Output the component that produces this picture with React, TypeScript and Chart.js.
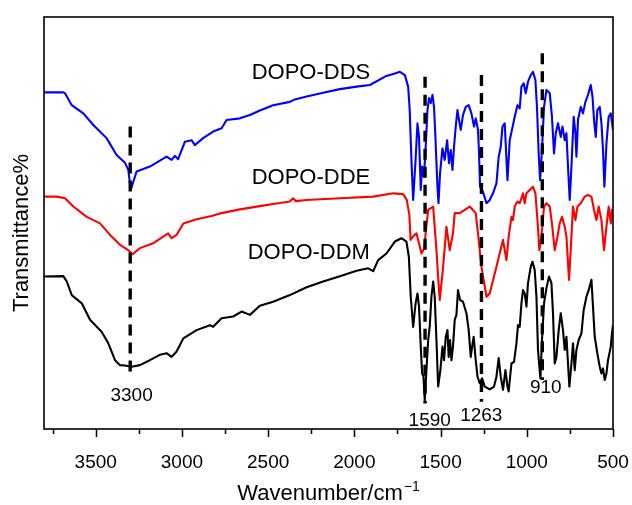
import React, { useEffect, useRef } from "react";
import { Chart, registerables } from "chart.js";

Chart.register(...registerables);

const FONT = "'Liberation Sans', Arial, Helvetica, sans-serif";

const seriesNames = ["DOPO-DDS", "DOPO-DDE", "DOPO-DDM"];
const seriesColors = ["#0000ff", "#ff0000", "#000000"];

const ddsWave = [3800,3688,3678,3639,3572,3514,3437,3379,3330,3311,3297,3282,3263,3186,3089,3060,3041,3022,2983,2944,2925,2877,2819,2770,2741,2664,2606,2548,2471,2374,2345,2277,2181,2084,1987,1910,1814,1765,1736,1707,1688,1679,1669,1659,1645,1634,1625,1615,1607,1597,1588,1576,1567,1557,1547,1538,1530,1518,1512,1503,1489,1476,1462,1451,1441,1431,1422,1412,1402,1393,1383,1370,1354,1337,1321,1306,1296,1283,1277,1271,1254,1234,1215,1196,1176,1163,1151,1141,1128,1112,1099,1086,1070,1054,1041,1031,1018,1006,993,977,964,950,941,931,923,912,900,886,867,854,842,832,819,803,793,780,770,761,751,741,728,718,712,703,687,674,660,645,629,619,610,600,591,577,567,558,550,538,525,513,500];
const ddsT = [81.7,81.7,81.5,78.6,76.6,73.8,70.6,66.5,64.6,62.9,58.0,60.0,62.5,63.7,66.1,65.3,66.3,65.5,69.7,70.1,68.9,70.6,72.2,73.0,75.0,75.4,76.2,77.3,78.6,79.4,80.0,80.7,81.6,82.5,83.1,83.5,85.7,86.3,86.7,85.9,83.1,77.4,65.3,55.6,65.3,74.2,70.9,58.0,63.7,61.2,67.0,77.4,80.3,79.1,81.1,78.2,70.9,58.8,54.8,62.1,68.1,65.3,70.1,64.5,67.7,62.9,68.5,73.4,77.4,75.0,72.6,76.2,78.2,78.6,76.6,73.4,75.4,72.6,67.0,58.8,57.6,54.8,55.6,57.2,59.6,66.1,68.5,73.4,74.2,60.4,70.1,72.6,75.8,78.6,77.8,83.1,83.9,81.5,84.3,85.9,86.7,84.7,78.2,66.9,60.4,67.7,78.2,82.3,81.5,75.8,66.9,71.8,74.2,70.9,73.4,70.1,71.8,63.7,55.6,63.7,75.8,71.8,66.1,75.0,78.2,76.6,79.4,81.1,83.5,80.7,75.0,70.9,77.4,78.2,74.2,67.7,58.8,69.3,75.8,76.6,72.6];

const ddeWave = [3800,3726,3678,3630,3552,3475,3408,3359,3311,3286,3244,3166,3080,3060,3031,2992,2915,2828,2770,2664,2548,2471,2374,2355,2339,2277,2084,1891,1775,1717,1696,1681,1674,1658,1640,1623,1611,1594,1586,1572,1543,1524,1513,1505,1485,1466,1447,1428,1418,1389,1360,1331,1296,1283,1263,1234,1215,1176,1138,1118,1105,1089,1080,1070,1054,1041,1022,1012,1002,983,964,950,938,927,915,900,886,867,854,838,822,809,796,780,770,755,741,732,718,706,687,664,645,625,610,596,583,567,552,538,525,513,506,500];
const ddeT = [56.4,56.4,56.0,54.0,51.5,49.9,46.7,44.7,43.4,42.4,43.9,45.1,47.5,46.3,47.1,49.9,50.9,51.7,52.4,53.3,54.1,54.6,55.2,56.0,55.3,55.6,56.0,56.4,57.2,57.0,55.6,51.9,45.9,46.8,47.5,44.7,42.6,43.9,47.8,53.2,54.0,43.4,36.2,31.3,39.4,49.1,43.4,47.5,52.4,52.4,53.2,54.0,52.4,47.5,39.4,32.1,32.9,39.4,45.9,41.0,46.7,51.5,50.7,54.0,55.2,54.8,57.2,54.8,57.2,58.0,58.8,57.2,50.7,43.4,46.7,54.0,54.8,54.0,49.9,43.4,46.7,49.9,51.5,49.1,46.7,36.2,46.7,54.0,50.7,54.0,54.8,56.4,56.8,56.4,53.2,50.7,54.0,50.7,43.4,49.1,54.0,49.9,53.2,51.5];

const ddmWave = [3800,3688,3668,3639,3581,3533,3466,3427,3388,3359,3330,3292,3244,3186,3128,3089,3060,3031,2992,2915,2838,2819,2770,2703,2654,2606,2548,2471,2374,2277,2181,2084,1987,1920,1891,1862,1814,1765,1727,1698,1684,1673,1659,1645,1634,1625,1615,1607,1599,1592,1582,1572,1563,1553,1543,1534,1524,1514,1501,1489,1480,1470,1460,1453,1445,1437,1428,1418,1408,1399,1387,1370,1350,1337,1325,1317,1308,1298,1286,1273,1259,1244,1215,1190,1176,1163,1151,1138,1124,1112,1105,1089,1074,1060,1051,1041,1031,1022,1012,1002,993,977,967,954,944,935,927,921,912,900,886,871,857,848,838,828,815,803,790,780,770,761,753,741,732,722,712,699,683,670,654,641,625,616,606,591,577,567,558,548,538,529,513,506,500];
const ddmT = [37.0,37.1,35.8,32.5,30.5,26.5,23.6,20.8,16.7,15.5,15.4,15.1,15.5,16.7,18.0,18.4,17.5,18.8,22.0,24.0,25.2,24.8,26.9,27.3,28.5,27.7,29.9,30.9,32.5,34.4,35.8,37.1,38.4,39.0,38.3,41.0,42.6,45.5,46.3,45.5,41.8,32.1,24.8,30.5,32.9,29.7,20.0,13.5,12.7,7.0,14.3,21.6,24.8,32.1,35.8,32.1,21.6,10.3,14.3,20.0,16.7,22.4,24.0,17.5,21.6,16.7,20.0,26.5,27.7,33.7,31.3,30.9,28.1,24.0,17.5,20.0,22.4,17.5,12.7,11.1,12.3,10.3,9.6,10.3,12.7,17.2,12.7,9.5,14.3,10.3,9.1,15.9,16.3,20.8,25.2,24.8,30.5,33.7,32.9,29.7,35.4,39.4,40.6,38.6,32.1,19.2,15.1,12.3,21.6,30.5,34.2,37.0,35.4,28.1,15.9,17.5,24.0,28.1,24.0,19.2,22.4,15.9,10.3,15.9,20.8,14.3,19.2,21.6,23.2,28.9,32.1,33.7,36.2,29.7,22.4,18.4,15.1,13.5,14.7,11.9,13.5,16.7,20.0,23.2,25.2];

const peakWave = [3300, 1590, 1263, 910];
const peakLabels = ["3300", "1590", "1263", "910"];
const peakTop = [73.4, 85.5, 85.9, 91.2];
const peakBottom = [12.7, 6.2, 6.6, 11.9];
const peakLabelWave = [3292, 1563, 1264, 890];
const peakLabelT = [8.0, 1.9, 3.2, 10.0];

const nameLabelWave = [2252, 2252, 2264];
const nameLabelT = [86.5, 60.9, 42.8];

const majorTicks = [3500, 3000, 2500, 2000, 1500, 1000, 500];
const minorTicks = [3750, 3250, 2750, 2250, 1750, 1250, 750];
const xMin = 500;
const xMax = 3800;
const xTitle = "Wavenumber/cm";
const xTitleSup = "\u22121";
const yTitle = "Transmittance%";

export default function App() {
  const canvasRef = useRef<HTMLCanvasElement | null>(null);

  useEffect(() => {
    document.body.style.margin = "0";
    const canvas = canvasRef.current;
    if (!canvas) return;
    const pts = (w: number[], t: number[]) => w.map((x, i) => ({ x, y: t[i] }));
    const spectra = [pts(ddsWave, ddsT), pts(ddeWave, ddeT), pts(ddmWave, ddmT)];

    const dashed = peakWave.map((w, i) => ({
      label: "peak " + peakLabels[i],
      data: [{ x: w, y: peakTop[i] }, { x: w, y: peakBottom[i] }],
      borderColor: "#000000",
      borderWidth: 3.4,
      borderDash: [11, 7],
      pointRadius: 0,
      fill: false,
    }));

    const lines = spectra.map((d, i) => ({
      label: seriesNames[i],
      data: d,
      borderColor: seriesColors[i],
      borderWidth: 2.1,
      pointRadius: 0,
      tension: 0,
      fill: false,
      borderJoinStyle: "round" as const,
    }));

    const overlay = {
      id: "overlay",
      afterDraw(chart: any) {
        const { ctx, chartArea: a } = chart;
        const xs = chart.scales.x;
        const ys = chart.scales.y;
        ctx.save();
        ctx.strokeStyle = "#000";
        ctx.lineWidth = 1.6;
        ctx.strokeRect(a.left, a.top, a.right - a.left, a.bottom - a.top);
        ctx.lineWidth = 1.5;
        ctx.beginPath();
        majorTicks.forEach((v) => {
          const p = Math.round(xs.getPixelForValue(v)) + 0.5;
          ctx.moveTo(p, a.bottom);
          ctx.lineTo(p, a.bottom + 8);
        });
        minorTicks.forEach((v) => {
          const p = Math.round(xs.getPixelForValue(v)) + 0.5;
          ctx.moveTo(p, a.bottom);
          ctx.lineTo(p, a.bottom + 5);
        });
        ctx.stroke();

        ctx.fillStyle = "#000";
        ctx.textAlign = "center";
        ctx.textBaseline = "middle";
        ctx.font = `22px ${FONT}`;
        seriesNames.forEach((n, i) => {
          ctx.fillText(n, xs.getPixelForValue(nameLabelWave[i]), ys.getPixelForValue(nameLabelT[i]));
        });
        ctx.font = `19px ${FONT}`;
        peakLabels.forEach((n, i) => {
          ctx.fillText(n, xs.getPixelForValue(peakLabelWave[i]), ys.getPixelForValue(peakLabelT[i]));
        });

        // x title
        ctx.textBaseline = "alphabetic";
        ctx.textAlign = "left";
        ctx.font = `22px ${FONT}`;
        const mainW = ctx.measureText(xTitle).width;
        ctx.font = `14px ${FONT}`;
        const supW = ctx.measureText(xTitleSup).width;
        const cx = (a.left + a.right) / 2;
        const x0 = cx - (mainW + supW + 1) / 2;
        const base = 500;
        ctx.font = `22px ${FONT}`;
        ctx.fillText(xTitle, x0, base);
        ctx.font = `14px ${FONT}`;
        ctx.fillText(xTitleSup, x0 + mainW + 1, base - 9);

        // y title
        ctx.save();
        ctx.translate(22, (a.top + a.bottom) / 2 + 10);
        ctx.rotate(-Math.PI / 2);
        ctx.textAlign = "center";
        ctx.textBaseline = "middle";
        ctx.font = `22px ${FONT}`;
        ctx.fillText(yTitle, 0, 0);
        ctx.restore();

        ctx.restore();
      },
    };

    const chart = new Chart(canvas, {
      type: "line",
      data: { datasets: [...dashed, ...lines] as any },
      options: {
        responsive: false,
        animation: false,
        layout: { padding: { left: 44, right: 19, top: 17, bottom: 0 } },
        plugins: { legend: { display: false }, tooltip: { enabled: false } },
        scales: {
          x: {
            type: "linear",
            reverse: true,
            min: xMin,
            max: xMax,
            grid: { display: false, drawTicks: false, tickLength: 0 },
            border: { display: false },
            afterBuildTicks: (s: any) => {
              s.ticks = majorTicks.map((v) => ({ value: v }));
            },
            afterFit: (s: any) => {
              s.height = 76;
              s.paddingLeft = 0;
              s.paddingRight = 0;
            },
            ticks: {
              font: { family: FONT, size: 19 },
              color: "#000",
              padding: 22,
              maxRotation: 0,
              autoSkip: false,
              callback: (v: any) => String(v),
            },
          },
          y: { display: false, min: 0, max: 100 },
        },
      } as any,
      plugins: [overlay],
    });
    return () => chart.destroy();
  }, []);

  return (
    <div style={{ position: "absolute", left: 0, top: 0, width: 632, height: 505 }}>
      <canvas ref={canvasRef} width={632} height={505} style={{ display: "block" }} />
    </div>
  );
}
